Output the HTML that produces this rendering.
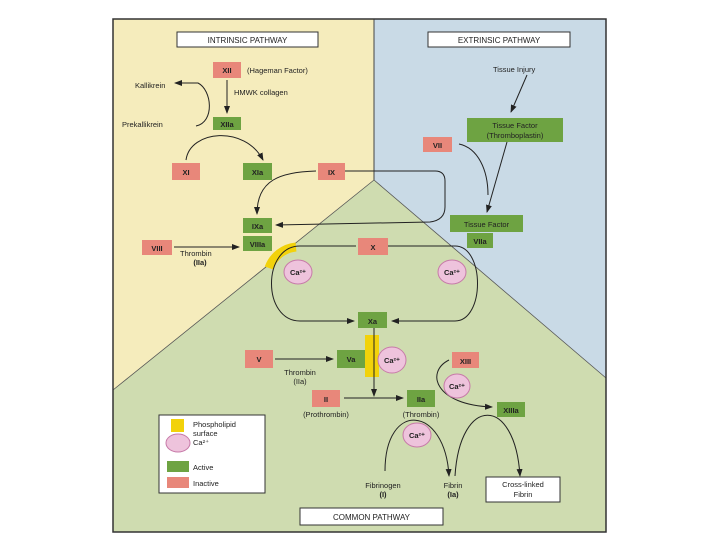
<!DOCTYPE html>
<html><head><meta charset="utf-8"><style>
html,body{margin:0;padding:0;background:#fff;width:720px;height:540px;overflow:hidden}
svg{display:block}
text{font-family:"Liberation Sans",sans-serif;fill:#222}
</style></head><body>
<svg width="720" height="540" viewBox="0 0 720 540" xmlns="http://www.w3.org/2000/svg">
<defs>
<marker id="a" markerWidth="8" markerHeight="8" refX="7" refY="4" orient="auto" markerUnits="userSpaceOnUse"><path d="M0,1 L8,4 L0,7 Z" fill="#222"/></marker>
</defs>
<rect x="113" y="19" width="493" height="513" fill="#cfdcb0"/>
<polygon points="113,19 374,19 374,180 113,390" fill="#f5ecbc"/>
<polygon points="374,19 606,19 606,378 374,180" fill="#c9dae6"/>
<line x1="374" y1="19" x2="374" y2="180" stroke="#444" stroke-width="1"/>
<line x1="374" y1="180" x2="113" y2="390" stroke="#555" stroke-width="0.8"/>
<line x1="374" y1="180" x2="606" y2="378" stroke="#555" stroke-width="0.8"/>
<rect x="113" y="19" width="493" height="513" fill="none" stroke="#333" stroke-width="1.5"/>

<g font-size="8">
<rect x="177" y="32" width="141" height="15" fill="#fff" stroke="#333"/>
<text x="247.5" y="43" text-anchor="middle">INTRINSIC PATHWAY</text>
<rect x="428" y="32" width="142" height="15" fill="#fff" stroke="#333"/>
<text x="499" y="43" text-anchor="middle">EXTRINSIC PATHWAY</text>
<rect x="300" y="508" width="143" height="17" fill="#fff" stroke="#333"/>
<text x="371.5" y="520" text-anchor="middle">COMMON PATHWAY</text>
</g>

<g fill="#e8877a">
<rect x="213" y="62" width="28" height="16"/>
<rect x="172" y="163" width="28" height="17"/>
<rect x="318" y="163" width="27" height="17"/>
<rect x="423" y="137" width="29" height="15"/>
<rect x="142" y="240" width="30" height="15"/>
<rect x="358" y="238" width="30" height="17"/>
<rect x="245" y="350" width="28" height="18"/>
<rect x="452" y="352" width="27" height="16"/>
<rect x="312" y="390" width="28" height="17"/>
</g>
<g fill="#6ea342">
<rect x="213" y="117" width="28" height="13"/>
<rect x="243" y="163" width="29" height="17"/>
<rect x="467" y="118" width="96" height="24"/>
<rect x="450" y="215" width="73" height="17"/>
<rect x="467" y="233" width="26" height="15"/>
<rect x="243" y="218" width="29" height="15"/>
<rect x="243" y="236" width="29" height="15"/>
<rect x="358" y="312" width="29" height="16"/>
<rect x="337" y="350" width="28" height="18"/>
<rect x="407" y="390" width="28" height="17"/>
<rect x="497" y="402" width="28" height="15"/>
</g>

<path d="M269,268 A32,32 0 0 1 296,247" fill="none" stroke="#f2d20a" stroke-width="9"/>
<rect x="365" y="335" width="14" height="42" fill="#f2d20a"/>

<g fill="none" stroke="#222" stroke-width="1">
<line x1="227" y1="80" x2="227" y2="113" marker-end="url(#a)"/>
<path d="M196,126 C215,122 212,90 198,83 L175,83" marker-end="url(#a)"/>
<path d="M186,160 C190,130 245,125 263,160" marker-end="url(#a)"/>
<path d="M316,171 C280,172 257,180 257,214" marker-end="url(#a)"/>
<path d="M345,171 L435,171 Q445,171 445,181 L445,207 Q445,220 430,222 L276,225" marker-end="url(#a)"/>
<path d="M527,75 L511,112" marker-end="url(#a)"/>
<path d="M507,142 L487,212" marker-end="url(#a)"/>
<path d="M459,144 C478,148 488,170 488,195"/>
<line x1="174" y1="247" x2="239" y2="247" marker-end="url(#a)"/>
<path d="M388,246 L455,246 C485,246 485,321 455,321 L392,321" marker-end="url(#a)"/>
<path d="M356,246 L300,246 C262,246 262,321 300,321 L354,321" marker-end="url(#a)"/>
<line x1="275" y1="359" x2="333" y2="359" marker-end="url(#a)"/>
<line x1="374" y1="328" x2="374" y2="396" marker-end="url(#a)"/>
<line x1="344" y1="398" x2="403" y2="398" marker-end="url(#a)"/>
<path d="M449,360 C425,372 435,405 492,407" marker-end="url(#a)"/>
<path d="M385,471 C385,400 445,405 449,476" marker-end="url(#a)"/>
<path d="M455,476 C460,395 515,395 520,476" marker-end="url(#a)"/>
</g>

<g fill="#eec3dc" stroke="#c77aa8" stroke-width="1">
<ellipse cx="298" cy="272" rx="14" ry="12"/>
<ellipse cx="452" cy="272" rx="14" ry="12"/>
<ellipse cx="392" cy="360" rx="14" ry="13"/>
<ellipse cx="457" cy="386" rx="13" ry="12"/>
<ellipse cx="417" cy="435" rx="14" ry="12"/>
</g>

<g font-size="7.5" font-weight="bold" text-anchor="middle" fill="#222">
<text x="227" y="73">XII</text>
<text x="227" y="127">XIIa</text>
<text x="186" y="175">XI</text>
<text x="257.5" y="175">XIa</text>
<text x="331.5" y="175">IX</text>
<text x="437.5" y="148">VII</text>
<text x="157" y="251">VIII</text>
<text x="373" y="250">X</text>
<text x="257.5" y="229">IXa</text>
<text x="257.5" y="247">VIIIa</text>
<text x="480" y="244">VIIa</text>
<text x="372.5" y="324">Xa</text>
<text x="259" y="362">V</text>
<text x="351" y="362">Va</text>
<text x="465.5" y="364">XIII</text>
<text x="326" y="402">II</text>
<text x="421" y="402">IIa</text>
<text x="511" y="413">XIIIa</text>
<text x="298" y="275">Ca²⁺</text>
<text x="452" y="275">Ca²⁺</text>
<text x="392" y="363">Ca²⁺</text>
<text x="457" y="389">Ca²⁺</text>
<text x="417" y="438">Ca²⁺</text>
<text x="200" y="265">(IIa)</text>
</g>
<g font-size="7.5" fill="#222">
<text x="247" y="73">(Hageman Factor)</text>
<text x="135" y="88">Kallikrein</text>
<text x="234" y="95">HMWK collagen</text>
<text x="122" y="127">Prekallikrein</text>
<text x="493" y="72">Tissue Injury</text>
<text x="515" y="128" text-anchor="middle">Tissue Factor</text>
<text x="515" y="138" text-anchor="middle">(Thromboplastin)</text>
<text x="486.5" y="227" text-anchor="middle">Tissue Factor</text>
<text x="180" y="256">Thrombin</text>
<text x="300" y="375" text-anchor="middle">Thrombin</text>
<text x="300" y="384" text-anchor="middle">(IIa)</text>
<text x="326" y="417" text-anchor="middle">(Prothrombin)</text>
<text x="421" y="417" text-anchor="middle">(Thrombin)</text>
<text x="383" y="488" text-anchor="middle">Fibrinogen</text>
<text x="383" y="497" text-anchor="middle" font-weight="bold">(I)</text>
<text x="453" y="488" text-anchor="middle">Fibrin</text>
<text x="453" y="497" text-anchor="middle" font-weight="bold">(Ia)</text>
</g>
<rect x="486" y="477" width="74" height="25" fill="#fff" stroke="#333"/>
<text x="523" y="487" font-size="7.5" text-anchor="middle">Cross-linked</text>
<text x="523" y="497" font-size="7.5" text-anchor="middle">Fibrin</text>

<rect x="159" y="415" width="106" height="78" fill="#fff" stroke="#333"/>
<rect x="171" y="419" width="13" height="13" fill="#f2d20a"/>
<ellipse cx="178" cy="443" rx="12" ry="9" fill="#eec3dc" stroke="#c77aa8"/>
<rect x="167" y="461" width="22" height="11" fill="#6ea342"/>
<rect x="167" y="477" width="22" height="11" fill="#e8877a"/>
<g font-size="7.5">
<text x="193" y="427">Phospholipid</text>
<text x="193" y="436">surface</text>
<text x="193" y="445">Ca²⁺</text>
<text x="193" y="470">Active</text>
<text x="193" y="486">Inactive</text>
</g>
</svg>
</body></html>
